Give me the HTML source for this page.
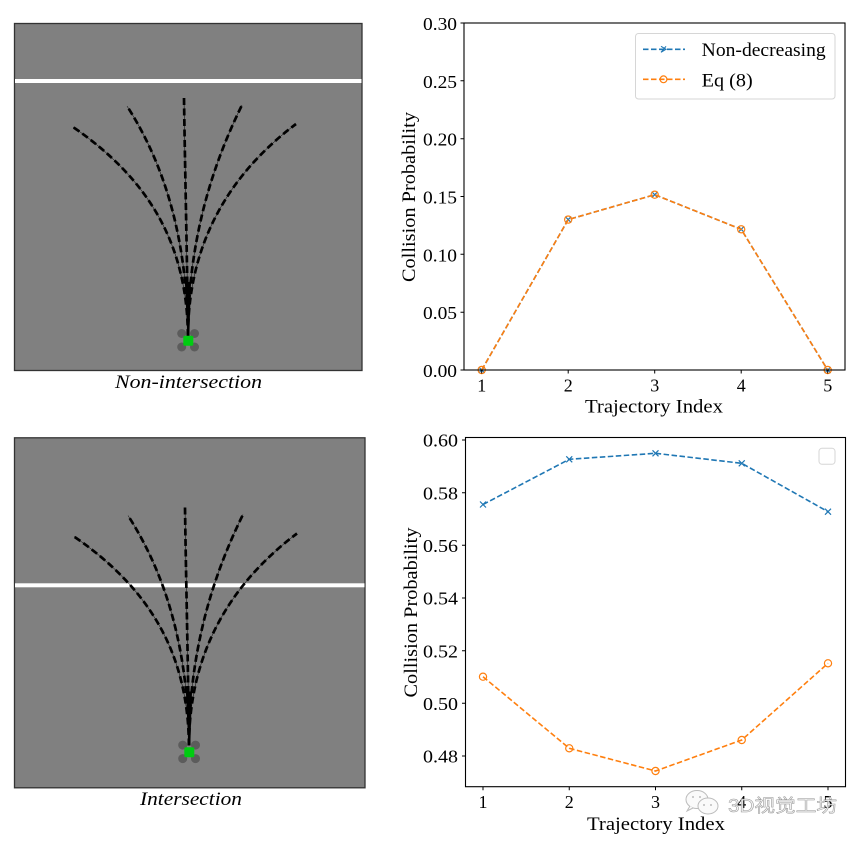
<!DOCTYPE html>
<html><head><meta charset="utf-8"><style>
html,body{margin:0;padding:0;background:#fff;}
svg{display:block;}
text{font-family:"Liberation Serif","DejaVu Serif",serif;fill:#000;}
</style></head><body>
<svg width="864" height="843" viewBox="0 0 864 843" xmlns="http://www.w3.org/2000/svg">
<defs>
<g id="traj">
  <g fill="none" stroke="#000" stroke-width="0.5">
    <path d="M188,336 C187,245 150,180 73,127"/>
    <path d="M188,336 C187,245 168,170 127,106"/>
    <path d="M188,336 C187,250 185,170 184,98"/>
    <path d="M188,336 C188,245 210,170 242,105"/>
    <path d="M188,336 C188,245 228,175 296,124"/>
  </g>
  <g fill="none" stroke="#000" stroke-width="2.7" stroke-dasharray="7 3.5">
    <path d="M188,336 C187,245 150,180 73,127"/>
    <path d="M188,336 C187,245 168,170 127,106"/>
    <path d="M188,336 C187,250 185,170 184,98"/>
    <path d="M188,336 C188,245 210,170 242,105"/>
    <path d="M188,336 C188,245 228,175 296,124"/>
  </g>
  <path d="M185,282 L191,282 L189.3,336 L187.3,336 Z" fill="#000"/>
</g>
<g id="veh">
  <circle cx="181.7" cy="333.5" r="4.5" fill="#5c5c5c"/>
  <circle cx="194.5" cy="333.5" r="4.5" fill="#5c5c5c"/>
  <circle cx="181.7" cy="347" r="4.5" fill="#5c5c5c"/>
  <circle cx="194.5" cy="347" r="4.5" fill="#5c5c5c"/>
  <rect x="183.3" y="335.7" width="10" height="10" rx="1.5" fill="#00cc11"/>
</g>
</defs>

<!-- Top-left image -->
<rect x="14.5" y="23.5" width="347.5" height="347" fill="#808080" stroke="#333" stroke-width="1.3"/>
<rect x="15" y="79" width="346.5" height="4" fill="#fff"/>
<use href="#traj"/>
<use href="#veh"/>
<text x="188.5" y="388" font-size="18.5" font-style="italic" text-anchor="middle" textLength="147" lengthAdjust="spacingAndGlyphs">Non-intersection</text>

<!-- Bottom-left image -->
<rect x="14.5" y="437.8" width="350.5" height="350" fill="#808080" stroke="#333" stroke-width="1.3"/>
<rect x="15" y="583.3" width="349.5" height="4" fill="#fff"/>
<g transform="translate(1,409.5)"><use href="#traj"/></g>
<g transform="translate(1,411.6)"><use href="#veh"/></g>
<text x="191" y="805" font-size="18.5" font-style="italic" text-anchor="middle" textLength="102" lengthAdjust="spacingAndGlyphs">Intersection</text>

<!-- Top-right chart -->
<g>
  <polyline points="481.7,370 568.2,219.6 654.7,194.7 741.2,229.3 827.7,370" fill="none" stroke="#1f77b4" stroke-width="1.6" stroke-dasharray="5.5 2.5"/>
  <g stroke="#1f77b4" stroke-width="1.2">
    <path d="M478.7,367 l6,6 M484.7,367 l-6,6"/>
    <path d="M565.2,216.6 l6,6 M571.2,216.6 l-6,6"/>
    <path d="M651.7,191.7 l6,6 M657.7,191.7 l-6,6"/>
    <path d="M738.2,226.3 l6,6 M744.2,226.3 l-6,6"/>
    <path d="M824.7,367 l6,6 M830.7,367 l-6,6"/>
  </g>
  <polyline points="481.7,370 568.2,219.6 654.7,194.7 741.2,229.3 827.7,370" fill="none" stroke="#ff7f0e" stroke-width="1.6" stroke-dasharray="5.5 2.5"/>
  <g fill="none" stroke="#ff7f0e" stroke-width="1.2">
    <circle cx="481.7" cy="370" r="3.6"/>
    <circle cx="568.2" cy="219.6" r="3.6"/>
    <circle cx="654.7" cy="194.7" r="3.6"/>
    <circle cx="741.2" cy="229.3" r="3.6"/>
    <circle cx="827.7" cy="370" r="3.6"/>
  </g>
  <rect x="464" y="23" width="381" height="347" fill="none" stroke="#000" stroke-width="1.1"/>
  <g stroke="#000" stroke-width="1">
    <path d="M460.5,23H464 M460.5,80.8H464 M460.5,138.7H464 M460.5,196.5H464 M460.5,254.3H464 M460.5,312.2H464 M460.5,370H464"/>
    <path d="M481.7,370v3.5 M568.2,370v3.5 M654.7,370v3.5 M741.2,370v3.5 M827.7,370v3.5"/>
  </g>
  <g font-size="18" text-anchor="end">
    <text x="457" y="30" textLength="34" lengthAdjust="spacingAndGlyphs">0.30</text>
    <text x="457" y="87.8" textLength="34" lengthAdjust="spacingAndGlyphs">0.25</text>
    <text x="457" y="145.7" textLength="34" lengthAdjust="spacingAndGlyphs">0.20</text>
    <text x="457" y="203.5" textLength="34" lengthAdjust="spacingAndGlyphs">0.15</text>
    <text x="457" y="261.3" textLength="34" lengthAdjust="spacingAndGlyphs">0.10</text>
    <text x="457" y="319.2" textLength="34" lengthAdjust="spacingAndGlyphs">0.05</text>
    <text x="457" y="377" textLength="34" lengthAdjust="spacingAndGlyphs">0.00</text>
  </g>
  <g font-size="18" text-anchor="middle">
    <text x="481.7" y="391.7">1</text>
    <text x="568.2" y="391.7">2</text>
    <text x="654.7" y="391.7">3</text>
    <text x="741.2" y="391.7">4</text>
    <text x="827.7" y="391.7">5</text>
  </g>
  <text x="654" y="412.5" font-size="19" text-anchor="middle" textLength="138" lengthAdjust="spacingAndGlyphs">Trajectory Index</text>
  <text transform="translate(415,197) rotate(-90)" font-size="19" text-anchor="middle" textLength="170" lengthAdjust="spacingAndGlyphs">Collision Probability</text>
  <rect x="635.5" y="33.5" width="199.5" height="65.5" rx="3" fill="#fff" fill-opacity="0.8" stroke="#d6d6d6" stroke-width="1"/>
  <path d="M643,49.3H685" stroke="#1f77b4" stroke-width="1.6" stroke-dasharray="5.5 2.5"/>
  <path d="M661,46.3 l5,3 l-5,3 M666,46.3 l-5,6" stroke="#1f77b4" stroke-width="1.1" fill="none"/>
  <path d="M643,79.3H685" stroke="#ff7f0e" stroke-width="1.6" stroke-dasharray="5.5 2.5"/>
  <circle cx="663.5" cy="79.3" r="3.4" fill="none" stroke="#ff7f0e" stroke-width="1.2"/>
  <text x="701.7" y="56" font-size="19" textLength="124" lengthAdjust="spacingAndGlyphs">Non-decreasing</text>
  <text x="701.7" y="86.5" font-size="19" textLength="51" lengthAdjust="spacingAndGlyphs">Eq (8)</text>
</g>

<!-- Bottom-right chart -->
<g>
  <polyline points="483,504.5 569.25,459.3 655.5,453.3 741.75,463.3 828,511.7" fill="none" stroke="#1f77b4" stroke-width="1.6" stroke-dasharray="5.5 2.5"/>
  <g stroke="#1f77b4" stroke-width="1.2">
    <path d="M480,501.5 l6,6 M486,501.5 l-6,6"/>
    <path d="M566.25,456.3 l6,6 M572.25,456.3 l-6,6"/>
    <path d="M652.5,450.3 l6,6 M658.5,450.3 l-6,6"/>
    <path d="M738.75,460.3 l6,6 M744.75,460.3 l-6,6"/>
    <path d="M825,508.7 l6,6 M831,508.7 l-6,6"/>
  </g>
  <polyline points="483,676.7 569.25,748.3 655.5,771 741.75,740 828,663.3" fill="none" stroke="#ff7f0e" stroke-width="1.6" stroke-dasharray="5.5 2.5"/>
  <g fill="none" stroke="#ff7f0e" stroke-width="1.2">
    <circle cx="483" cy="676.7" r="3.6"/>
    <circle cx="569.25" cy="748.3" r="3.6"/>
    <circle cx="655.5" cy="771" r="3.6"/>
    <circle cx="741.75" cy="740" r="3.6"/>
    <circle cx="828" cy="663.3" r="3.6"/>
  </g>
  <rect x="465.5" y="437.5" width="380" height="349.2" fill="none" stroke="#000" stroke-width="1.1"/>
  <g stroke="#000" stroke-width="1">
    <path d="M462,440H465.5 M462,492.7H465.5 M462,545.3H465.5 M462,598H465.5 M462,650.7H465.5 M462,703.3H465.5 M462,756H465.5"/>
    <path d="M483,786.7v3.5 M569.25,786.7v3.5 M655.5,786.7v3.5 M741.75,786.7v3.5 M828,786.7v3.5"/>
  </g>
  <g font-size="18" text-anchor="end">
    <text x="458" y="446.7" textLength="35" lengthAdjust="spacingAndGlyphs">0.60</text>
    <text x="458" y="499.4" textLength="35" lengthAdjust="spacingAndGlyphs">0.58</text>
    <text x="458" y="552" textLength="35" lengthAdjust="spacingAndGlyphs">0.56</text>
    <text x="458" y="604.7" textLength="35" lengthAdjust="spacingAndGlyphs">0.54</text>
    <text x="458" y="657.4" textLength="35" lengthAdjust="spacingAndGlyphs">0.52</text>
    <text x="458" y="710" textLength="35" lengthAdjust="spacingAndGlyphs">0.50</text>
    <text x="458" y="762.7" textLength="35" lengthAdjust="spacingAndGlyphs">0.48</text>
  </g>
  <g font-size="18" text-anchor="middle">
    <text x="483" y="808">1</text>
    <text x="569.25" y="808">2</text>
    <text x="655.5" y="808">3</text>
    <text x="741.75" y="808">4</text>
    <text x="828" y="808">5</text>
  </g>
  <text x="656" y="830" font-size="19" text-anchor="middle" textLength="138" lengthAdjust="spacingAndGlyphs">Trajectory Index</text>
  <text transform="translate(417,612.5) rotate(-90)" font-size="19" text-anchor="middle" textLength="170" lengthAdjust="spacingAndGlyphs">Collision Probability</text>
  <rect x="819" y="448.3" width="16" height="16" rx="3" fill="#fff" stroke="#d6d6d6" stroke-width="1"/>
</g>

<!-- Watermark -->
<g opacity="0.9">
  <ellipse cx="697" cy="799.5" rx="11" ry="9" fill="#fafafa" stroke="#b5b5b5" stroke-width="1"/>
  <path d="M690,806 l-3,5 l6,-3" fill="#fafafa" stroke="#b5b5b5" stroke-width="1"/>
  <ellipse cx="708" cy="806" rx="10" ry="8" fill="#fafafa" stroke="#b5b5b5" stroke-width="1"/>
  <circle cx="704" cy="805" r="1" fill="#b5b5b5"/>
  <circle cx="711" cy="805" r="1" fill="#b5b5b5"/>
  <circle cx="693" cy="797" r="1" fill="#b5b5b5"/>
  <circle cx="700" cy="797" r="1" fill="#b5b5b5"/>
  <text x="728" y="812" font-size="18" textLength="109" lengthAdjust="spacingAndGlyphs" style="font-family:'Liberation Sans','Noto Sans CJK SC',sans-serif;fill:#f6f6f6;stroke:#8a8a8a;stroke-width:0.5;">3D视觉工坊</text>
</g>
</svg>
</body></html>
